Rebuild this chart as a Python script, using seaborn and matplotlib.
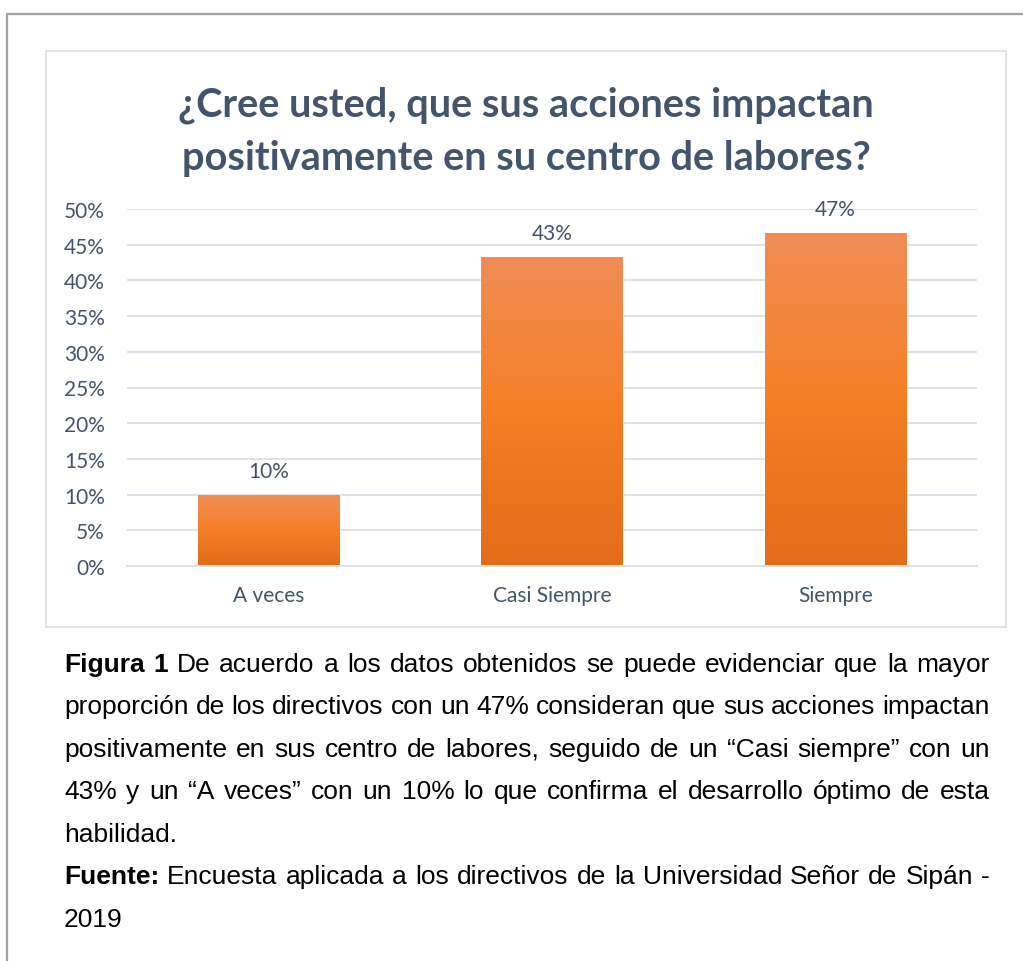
import numpy as np
import pandas as pd
import seaborn as sns
import matplotlib.pyplot as plt
from matplotlib.patches import Rectangle
from matplotlib.lines import Line2D
from matplotlib.colors import LinearSegmentedColormap
from matplotlib.ticker import PercentFormatter

## Data
categorias = ["A veces", "Casi Siempre", "Siempre"]
porcentajes = [0.10, 0.433, 0.467]

titulo = "¿Cree usted, que sus acciones impactan\npositivamente en su centro de labores?"

caption_lines = [
    [("Figura 1", True), ("De acuerdo a los datos obtenidos se puede evidenciar que la mayor", False)],
    [("proporción de los directivos con un 47% consideran que sus acciones impactan", False)],
    [("positivamente en sus centro de labores, seguido de un “Casi siempre” con un", False)],
    [("43% y un “A veces” con un 10% lo que confirma el desarrollo óptimo de esta", False)],
    [("habilidad.", False)],
    [("Fuente:", True), ("Encuesta aplicada a los directivos de la Universidad Señor de Sipán -", False)],
    [("2019", False)],
]
justificar = [True, True, True, True, False, True, False]

W, H = 1023, 962
slate = "#44546a"
grid_col = "#dde2ea"

sns.set_theme(style="white")
plt.rcParams['font.family'] = ['Lato', 'DejaVu Sans']

fig = plt.figure(figsize=(W / 100, H / 100), dpi=100)


def fx(x):
    return x / W


def fy(y):
    return 1 - y / H


# outer page border (top + left)
fig.add_artist(Line2D([fx(7), fx(W)], [fy(15), fy(15)], color="#a3a3a3", lw=1.6, zorder=-2))
fig.add_artist(Line2D([fx(7), fx(7)], [fy(15), fy(H)], color="#a3a3a3", lw=1.6, zorder=-2))

# chart box
fig.add_artist(Rectangle((fx(46), fy(628)), fx(1006) - fx(46), fy(52) - fy(628),
                         facecolor="white", edgecolor="#d9dee6", lw=1.2, zorder=-1))

# plot area
ax = fig.add_axes([fx(127), fy(567), fx(977) - fx(127), fy(210) - fy(567)])
ax.patch.set_visible(False)
df = pd.DataFrame({"categoria": categorias, "valor": porcentajes})
sns.barplot(data=df, x="categoria", y="valor", ax=ax, width=0.5, color="#F47F2A")

ax.set_ylim(0, 0.5)
ax.set_yticks(np.arange(0, 0.51, 0.05))
ax.yaxis.set_major_formatter(PercentFormatter(xmax=1, decimals=0))
ax.grid(axis="y", color=grid_col, lw=1.4)
ax.set_axisbelow(True)
for s in ["top", "right", "left"]:
    ax.spines[s].set_visible(False)
ax.spines["bottom"].set_color(grid_col)
ax.spines["bottom"].set_linewidth(1.4)
ax.tick_params(axis="both", length=0, labelsize=15, labelcolor=slate)
ax.tick_params(axis="y", pad=16)
ax.tick_params(axis="x", pad=14)
ax.set_xlabel("")
ax.set_ylabel("")

# gradient fill on bars
cmap = LinearSegmentedColormap.from_list("naranja", ["#E36C1A", "#F57F25", "#F08D56"])
grad = np.linspace(0, 1, 256).reshape(-1, 1)
for patch in ax.patches:
    x0, y0 = patch.get_x(), patch.get_y()
    w, h = patch.get_width(), patch.get_height()
    im = ax.imshow(grad, cmap=cmap, origin="lower", aspect="auto",
                   extent=[x0, x0 + w, y0, y0 + h], zorder=patch.get_zorder() + 0.1)
    im.set_clip_path(patch)
ax.set_xlim(-0.5, len(categorias) - 0.5)
ax.set_ylim(0, 0.5)

for i, v in enumerate(porcentajes):
    ax.annotate(f"{v:.0%}", (i, v), xytext=(0, 17), textcoords="offset points",
                ha="center", va="center", fontsize=15, color=slate)

# title
fig.text(fx(526), fy(117), titulo.split("\n")[0], ha="center", va="baseline",
         fontsize=28.6, fontweight="bold", color=slate)
fig.text(fx(526), fy(170), titulo.split("\n")[1], ha="center", va="baseline",
         fontsize=28.6, fontweight="bold", color=slate)

# caption, justified like the document
renderer = fig.canvas.get_renderer()
cap_font = ["Liberation Sans", "DejaVu Sans"]
cap_size = 19
x_left, x_right = 64, 990
base0, step = 672, 42.5

for li, line in enumerate(caption_lines):
    words = []
    for chunk, bold in line:
        for wd in chunk.split(" "):
            words.append((wd, bold))
    base = base0 + li * step
    texts = []
    widths = []
    for wd, bold in words:
        t = fig.text(0, fy(base), wd, ha="left", va="baseline", fontsize=cap_size,
                     family=cap_font, fontweight="bold" if bold else "normal", color="black")
        texts.append(t)
        widths.append(t.get_window_extent(renderer).width)
    if justificar[li] and len(words) > 1:
        gap = (x_right - x_left - sum(widths)) / (len(words) - 1)
    else:
        gap = cap_size * 100 / 72 * 0.278
    x = x_left
    for t, wpx in zip(texts, widths):
        t.set_x(fx(x))
        x += wpx + gap

fig.savefig("out.png", dpi=100)
